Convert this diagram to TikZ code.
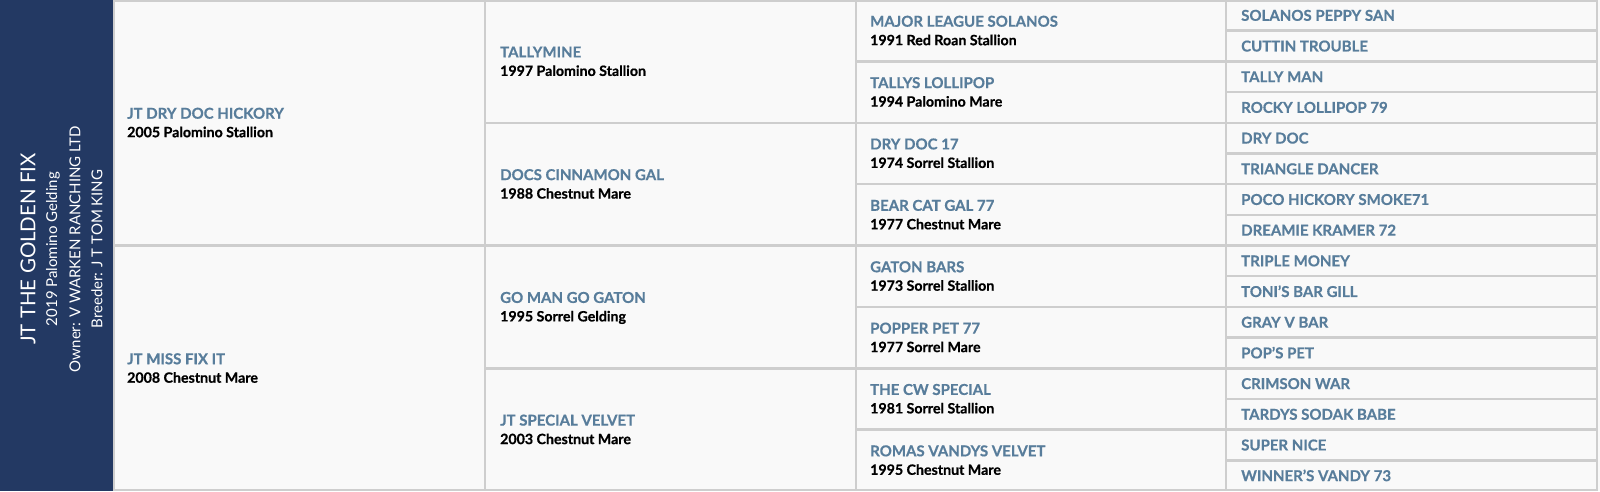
\documentclass[tikz,border=0pt]{standalone}
\usepackage{fontspec}
\setmainfont{Lato}[BoldFeatures={FakeBold=0.6}]
\usetikzlibrary{calc}

\definecolor{barblue}{RGB}{35,57,99}
\definecolor{nameblue}{RGB}{88,125,155}
\definecolor{cellgray}{RGB}{249,249,249}
\definecolor{linegray}{RGB}{206,206,206}

\tikzset{
  hname/.style={anchor=base west,inner sep=0pt,text=nameblue,
    font=\fontsize{15}{18}\selectfont\bfseries},
  hinfo/.style={anchor=base west,inner sep=0pt,text=black,
    font=\fontsize{14.2}{17}\selectfont\bfseries},
  barline/.style={rotate=90,inner sep=0pt,text=white,
    font=\fontsize{15}{18}\selectfont},
  gridline/.style={draw=linegray,line width=2.5pt},
}

\begin{document}
\begin{tikzpicture}[x=1pt,y=-1pt]
  \useasboundingbox (0,0) rectangle (1600,491);
  \fill[color=cellgray] (0,0) rectangle (1600,491);
  \fill[color=barblue] (0,0) rectangle (113,491);

  % grid of the pedigree
  \draw[gridline] (114,1) rectangle (1597,490);
  \draw[gridline] (485,0) -- (485,491);
  \draw[gridline] (856,0) -- (856,491);
  \draw[gridline] (1226,0) -- (1226,491);
  \foreach \k in {1,...,15}
    \draw[gridline] (1226,\k*30.6875) -- (1597,\k*30.6875);
  \foreach \k in {2,4,...,14}
    \draw[gridline] (856,\k*30.6875) -- (1226,\k*30.6875);
  \foreach \k in {4,12}
    \draw[gridline] (485,\k*30.6875) -- (856,\k*30.6875);
  \draw[gridline] (114,245.5) -- (1597,245.5);

  % the horse itself
  \node[barline,font=\fontsize{20.5}{24}\selectfont] (horse) at (28,249)
    {JT THE GOLDEN FIX};
  \node[barline] (horse-i) at (53,249) {2019 Palomino Gelding};
  \node[barline] (owner) at (75,249) {Owner: V WARKEN RANCHING LTD};
  \node[barline] (breeder) at (97,249) {Breeder: J T TOM KING};

  % parents
  \node[hname] (sire) at (127,118.7) {JT DRY DOC HICKORY};
  \node[hinfo] (sire-i) at (127,137.2) {2005 Palomino Stallion};
  \node[hname] (dam) at (127,364.2) {JT MISS FIX IT};
  \node[hinfo] (dam-i) at (127,382.7) {2008 Chestnut Mare};

  % grandparents
  \node[hname] (ss) at (500,57.4) {TALLYMINE};
  \node[hinfo] (ss-i) at (500,75.9) {1997 Palomino Stallion};
  \node[hname] (sd) at (500,180.1) {DOCS CINNAMON GAL};
  \node[hinfo] (sd-i) at (500,198.6) {1988 Chestnut Mare};
  \node[hname] (ds) at (500,302.9) {GO MAN GO GATON};
  \node[hinfo] (ds-i) at (500,321.4) {1995 Sorrel Gelding};
  \node[hname] (dd) at (500,425.6) {JT SPECIAL VELVET};
  \node[hinfo] (dd-i) at (500,444.1) {2003 Chestnut Mare};

  % great grandparents
  \node[hname] (sss) at (870,26.7) {MAJOR LEAGUE SOLANOS};
  \node[hinfo] (sss-i) at (870,45.2) {1991 Red Roan Stallion};
  \node[hname] (ssd) at (870,88.1) {TALLYS LOLLIPOP};
  \node[hinfo] (ssd-i) at (870,106.6) {1994 Palomino Mare};
  \node[hname] (sds) at (870,149.4) {DRY DOC 17};
  \node[hinfo] (sds-i) at (870,167.9) {1974 Sorrel Stallion};
  \node[hname] (sdd) at (870,210.8) {BEAR CAT GAL 77};
  \node[hinfo] (sdd-i) at (870,229.3) {1977 Chestnut Mare};
  \node[hname] (dss) at (870,272.2) {GATON BARS};
  \node[hinfo] (dss-i) at (870,290.7) {1973 Sorrel Stallion};
  \node[hname] (dsd) at (870,333.6) {POPPER PET 77};
  \node[hinfo] (dsd-i) at (870,352.1) {1977 Sorrel Mare};
  \node[hname] (dds) at (870,394.9) {THE CW SPECIAL};
  \node[hinfo] (dds-i) at (870,413.4) {1981 Sorrel Stallion};
  \node[hname] (ddd) at (870,456.3) {ROMAS VANDYS VELVET};
  \node[hinfo] (ddd-i) at (870,474.8) {1995 Chestnut Mare};

  % fourth generation
  \foreach \n [count=\i from 0] in {SOLANOS PEPPY SAN,CUTTIN TROUBLE,TALLY MAN,
      ROCKY LOLLIPOP 79,DRY DOC,TRIANGLE DANCER,POCO HICKORY SMOKE71,
      DREAMIE KRAMER 72,TRIPLE MONEY,TONI'S BAR GILL,GRAY V BAR,POP'S PET,
      CRIMSON WAR,TARDYS SODAK BABE,SUPER NICE,WINNER'S VANDY 73}
    \node[hname] (g\i) at (1241,20.8+\i*30.6875) {\n};
\end{tikzpicture}
\end{document}
